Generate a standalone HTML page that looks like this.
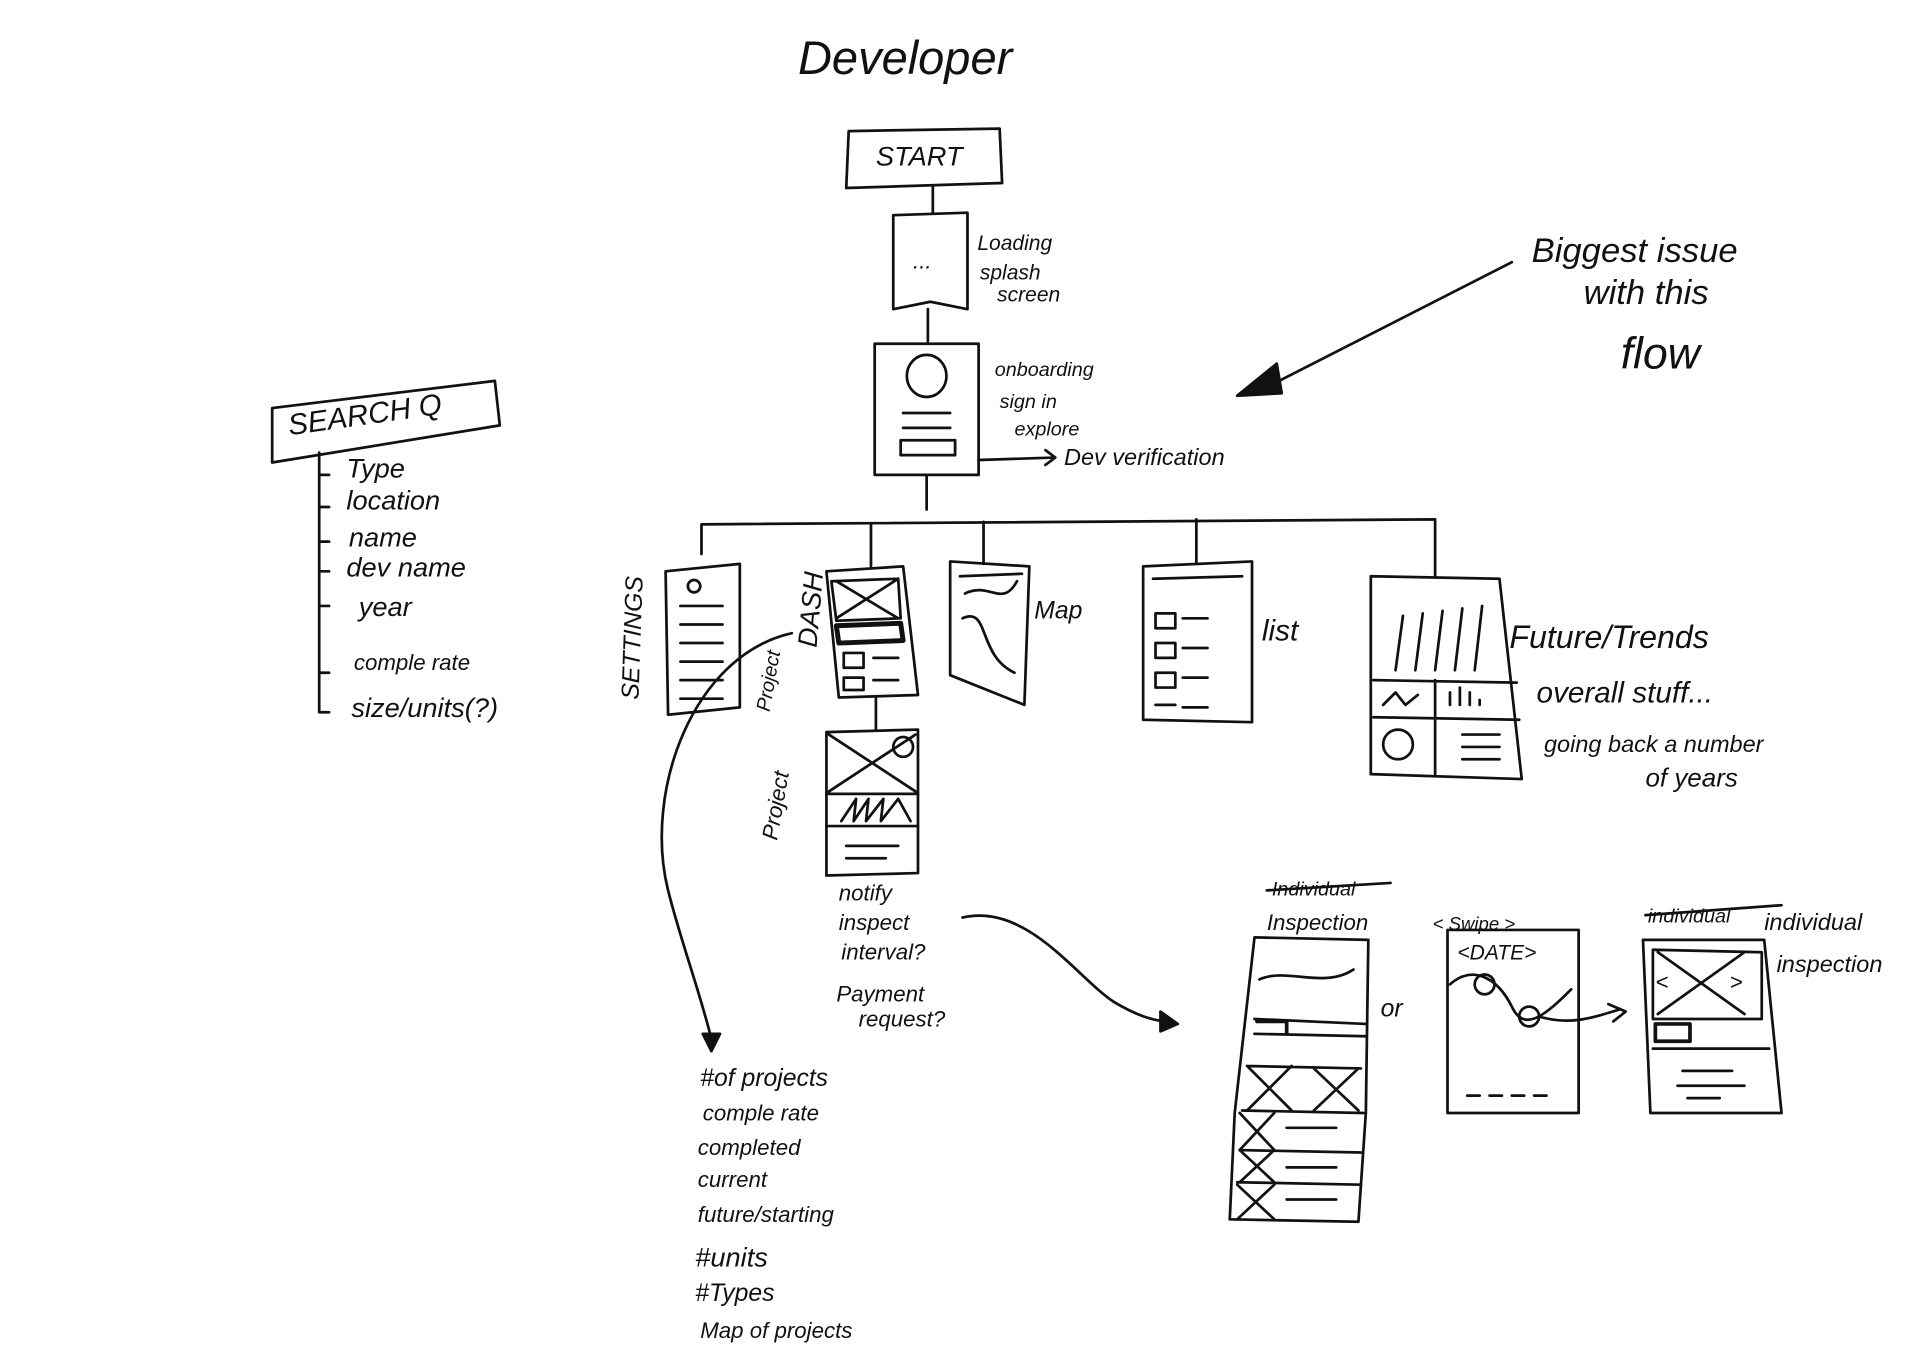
<!DOCTYPE html>
<html><head><meta charset="utf-8"><style>
html,body{margin:0;padding:0;background:#fff;}
svg{display:block}
text{font-family:"Liberation Sans",sans-serif;font-style:italic;fill:#111}
</style></head><body>
<svg width="1930" height="1364" viewBox="0 0 1560 1103" preserveAspectRatio="none" xmlns="http://www.w3.org/2000/svg">
<g fill="none" stroke="#111" stroke-width="2.2" stroke-linecap="round" stroke-linejoin="round">
<!-- START -->
<path d="M686 106 L808 104 L810 148 L684 152 Z"/>
<path d="M754 150 L754 172"/>
<!-- loading -->
<path d="M722 174 L782 172 L782 250 L752 244 L722 250 Z"/>
<path d="M750 250 L750 276"/>
<!-- onboarding -->
<rect x="707" y="278" width="84" height="106"/>
<ellipse cx="749" cy="304" rx="16" ry="17"/>
<path d="M730 334 H768 M730 346 H768 M728 356 H772 V368 H728 Z"/>
<path d="M791 372 L852 370 M845 364 L853 370 L845 376"/>
<path d="M749 384 L749 412"/>
<!-- bus -->
<path d="M567 448 L567 424 L1160 420 L1160 466"/>
<path d="M704 424 L704 458 M795 422 L795 456 M967 420 L967 456"/>
<!-- settings -->
<path d="M538 462 L598 456 L598 572 L540 578 Z"/>
<circle cx="561" cy="474" r="5"/>
<path d="M550 490H584 M550 505H584 M550 520H584 M550 535H584 M550 550H584 M550 565H584"/>
<!-- dash -->
<path d="M668 462 L730 458 L742 562 L678 564 Z"/>
<path d="M672 470 L726 468 L728 500 L676 502 Z M676 470 L726 500 M726 468 L676 500"/>
<path d="M676 506 L728 504 L730 518 L678 520 Z" stroke-width="4"/>
<path d="M682 528 H698 V540 H682 Z M682 548 H698 V558 H682 Z M706 532 H726 M706 550 H726"/>
<path d="M708 564 L708 590"/>
<!-- map -->
<path d="M768 454 L832 458 L828 570 L768 546 Z"/>
<path d="M776 466 L826 464 M780 480 C800 470 810 492 822 470 M778 500 C800 490 790 530 820 544"/>
<!-- list -->
<path d="M924 458 L1012 454 L1012 584 L924 582 Z"/>
<path d="M932 468 L1004 466 M934 496 H950 V508 H934 Z M956 500 H976 M934 520 H950 V532 H934 Z M956 524 H976 M934 544 H950 V556 H934 Z M956 548 H976 M934 570 H950 M956 572 H976"/>
<!-- future -->
<path d="M1108 466 L1212 468 L1230 630 L1108 626 Z"/>
<path d="M1128 542 L1134 498 M1144 542 L1150 496 M1160 542 L1166 494 M1176 542 L1182 492 M1192 542 L1198 490"/>
<path d="M1110 550 L1226 552 M1110 580 L1228 582 M1160 550 L1160 626"/>
<path d="M1118 570 L1128 560 L1136 570 L1146 562 M1172 570 V560 M1180 570 V556 M1188 570 V560 M1196 570 V566"/>
<circle cx="1130" cy="602" r="12"/>
<path d="M1182 594 H1212 M1182 604 H1212 M1182 614 H1212"/>
<!-- project -->
<path d="M668 592 L742 590 L742 706 L668 708 Z"/>
<path d="M670 594 L740 640 M740 594 L670 640 M668 642 H742"/>
<circle cx="730" cy="604" r="8"/>
<path d="M680 664 L692 646 L690 664 L702 646 L700 664 L714 646 L712 664 L726 646 L736 664 M668 668 H742 M684 684 H726 M684 694 H716"/>
<!-- curves -->
<path d="M640 512 C560 530 520 640 540 720 C550 760 565 800 575 840"/>
<path d="M568 836 L582 836 L575 850 Z" fill="#111"/>
<path d="M778 742 C830 730 870 790 900 810 C920 822 935 826 945 826"/>
<path d="M938 818 L952 828 L938 834 Z" fill="#111"/>
<!-- arrow to onboarding -->
<path d="M1222 212 L1030 310"/>
<path d="M1000 320 L1032 294 L1036 318 Z" fill="#111"/>
<!-- search -->
<path d="M220 330 L400 308 L404 344 L220 374 Z"/>
<path d="M258 366 V576 M258 384 H266 M258 410 H266 M258 438 H266 M258 462 H266 M258 490 H266 M258 514 V544 H266 M258 576 H266"/>
<!-- inspection -->
<path d="M1014 758 L1106 760 L1104 900 L1098 988 L994 986 L998 900 Z"/>
<path d="M1014 824 L1104 828 M1014 836 L1104 838 M1018 792 C1040 782 1070 800 1094 784"/>
<path d="M1016 826 L1040 826 L1040 836" stroke-width="3"/>
<path d="M1008 862 L1100 864 M1004 898 L1102 900 M1008 862 L1044 898 M1044 862 L1008 898 M1062 864 L1098 898 M1098 864 L1062 898"/>
<path d="M1002 930 L1100 932 M1000 956 L1100 958 M1002 900 L1030 930 M1030 900 L1002 930 M1002 930 L1030 956 M1030 930 L1002 956 M1000 958 L1030 986 M1030 958 L1000 986 M1040 912 H1080 M1040 944 H1080 M1040 970 H1080"/>
<!-- date -->
<rect x="1170" y="752" width="106" height="148"/>
<path d="M1172 796 C1190 780 1210 790 1222 814 C1232 836 1250 820 1270 800"/>
<circle cx="1200" cy="796" r="8"/><circle cx="1236" cy="822" r="8"/>
<path d="M1244 822 C1270 830 1290 822 1310 816 M1300 812 L1314 818 L1304 826" />
<path d="M1186 886 H1196 M1204 886 H1214 M1222 886 H1232 M1240 886 H1250"/>
<!-- individual -->
<path d="M1328 760 L1426 760 L1440 900 L1334 900 Z"/>
<path d="M1336 768 L1424 770 L1424 824 L1336 824 Z M1340 770 L1410 820 M1410 770 L1340 820"/>
<path d="M1338 828 H1366 V842 H1338 Z" stroke-width="3"/>
<path d="M1336 848 H1430 M1360 866 H1400 M1356 878 H1410 M1364 888 H1390"/>
<path d="M1024 720 L1124 714 M1330 740 L1440 732"/>
</g>
<g font-size="22">
<text x="645" y="60" font-size="38">Developer</text>
<text x="708" y="134" font-size="22" font-style="normal">START</text>
<text x="738" y="217" font-size="18">...</text>
<text x="790" y="202" font-size="17">Loading</text>
<text x="792" y="226" font-size="17">splash</text>
<text x="806" y="244" font-size="17">screen</text>
<text x="804" y="304" font-size="16">onboarding</text>
<text x="808" y="330" font-size="16">sign in</text>
<text x="820" y="352" font-size="16">explore</text>
<text x="860" y="376" font-size="19">Dev verification</text>
<text x="1238" y="212" font-size="28">Biggest issue</text>
<text x="1280" y="246" font-size="28">with this</text>
<text x="1310" y="298" font-size="36">flow</text>
<text x="234" y="352" font-size="24" font-style="normal" transform="rotate(-8 234 352)">SEARCH Q</text>
<text x="280" y="386">Type</text>
<text x="280" y="412">location</text>
<text x="282" y="442">name</text>
<text x="280" y="466">dev name</text>
<text x="290" y="498">year</text>
<text x="286" y="542" font-size="18">comple rate</text>
<text x="284" y="580">size/units(?)</text>
<text x="0" y="0" font-size="20" transform="translate(516 566) rotate(-88)">SETTINGS</text>
<text x="0" y="0" font-size="22" transform="translate(660 524) rotate(-85)">DASH</text>
<text x="0" y="0" font-size="16" transform="translate(622 576) rotate(-80)">Project</text>
<text x="836" y="500" font-size="20">Map</text>
<text x="1020" y="518" font-size="24">list</text>
<text x="1220" y="524" font-size="26">Future/Trends</text>
<text x="1242" y="568" font-size="24">overall stuff...</text>
<text x="1248" y="608" font-size="19">going back a number</text>
<text x="1330" y="636" font-size="21">of years</text>
<text x="0" y="0" font-size="18" transform="translate(628 680) rotate(-80)">Project</text>
<text x="678" y="728" font-size="18">notify</text>
<text x="678" y="752" font-size="18">inspect</text>
<text x="680" y="776" font-size="18">interval?</text>
<text x="676" y="810" font-size="18">Payment</text>
<text x="694" y="830" font-size="18">request?</text>
<text x="566" y="878" font-size="20">#of projects</text>
<text x="568" y="906" font-size="18">comple rate</text>
<text x="564" y="934" font-size="18">completed</text>
<text x="564" y="960" font-size="18">current</text>
<text x="564" y="988" font-size="18">future/starting</text>
<text x="562" y="1024" font-size="22">#units</text>
<text x="562" y="1052" font-size="20">#Types</text>
<text x="566" y="1082" font-size="18">Map of projects</text>
<text x="1024" y="752" font-size="18">Inspection</text>
<text x="1028" y="724" font-size="16">Individual</text>
<text x="1158" y="752" font-size="15">&lt; Swipe &gt;</text>
<text x="1178" y="776" font-size="17" font-style="normal">&lt;DATE&gt;</text>
<text x="1116" y="822" font-size="20">or</text>
<text x="1332" y="746" font-size="16">individual</text>
<text x="1426" y="752" font-size="19">individual</text>
<text x="1436" y="786" font-size="19">inspection</text>
<text x="1338" y="800" font-size="18" font-style="normal">&lt;</text>
<text x="1398" y="800" font-size="18" font-style="normal">&gt;</text>
</g>
</svg>
</body></html>
